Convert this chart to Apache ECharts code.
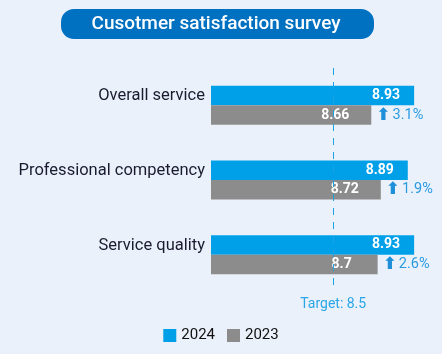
<!DOCTYPE html>
<html>
<head>
<meta charset="utf-8">
<script src="https://cdn.jsdelivr.net/npm/echarts@6/dist/echarts.min.js"></script>
<style>
  html, body { margin: 0; padding: 0; background: #eaf1fb; }
  #chart { width: 442px; height: 354px; }
</style>
</head>
<body>
<div id="chart"></div>
<script>
// data
const categories = ['Overall service', 'Professional competency', 'Service quality']
const values2024 = [8.93, 8.89, 8.93]
const values2023 = [8.66, 8.72, 8.7]
const growth = ['3.1%', '1.9%', '2.6%']
const targetLine = 8.42 // where the dashed line sits in the picture
const targetText = 'Target: 8.5'

const chart = echarts.init(document.getElementById('chart'))

const option = {
    backgroundColor: '#eaf1fb',
    textStyle: { fontFamily: 'Roboto' },
    graphic: [
        {
            type: 'rect',
            shape: { x: 61, y: 9, width: 313, height: 30, r: 13 },
            style: { fill: '#0070c0' },
        },
        {
            type: 'text',
            x: 216,
            y: 24,
            style: {
                text: 'Cusotmer satisfaction survey',
                fill: '#ffffff',
                font: '500 19px Roboto',
                align: 'center',
                verticalAlign: 'middle',
            },
        },
    ],
    legend: {
        bottom: 6,
        left: 'center',
        itemWidth: 13,
        itemHeight: 13,
        itemGap: 12,
        icon: 'rect',
        textStyle: { color: '#111', fontSize: 15 },
        data: ['2024', '2023'],
    },
    grid: {
        left: 211,
        width: 219,
        top: 68,
        bottom: 62,
    },
    xAxis: {
        type: 'value',
        min: 7.65,
        max: 9.03,
        show: false,
    },
    yAxis: {
        type: 'category',
        inverse: true,
        data: categories,
        axisLine: { show: false },
        axisTick: { show: false },
        axisLabel: {
            color: '#1b1b2f',
            fontSize: 16.5,
            margin: 6,
            verticalAlign: 'bottom',
            lineHeight: 18,
        },
    },
    series: [
        {
            name: '2024',
            type: 'bar',
            data: values2024,
            barWidth: 19.5,
            barGap: '0%',
            itemStyle: { color: '#00a0e9' },
            label: {
                show: true,
                position: 'insideRight',
                distance: 14,
                color: '#fff',
                fontWeight: 'bold',
                fontSize: 14,
            },
            markLine: {
                silent: true,
                symbol: 'none',
                lineStyle: { color: '#1ba3e4', type: [7, 7], width: 1 },
                label: {
                    show: true,
                    position: 'end',
                    formatter: targetText,
                    color: '#2aa6e6',
                    fontSize: 14,
                },
                data: [{ xAxis: targetLine }],
            },
        },
        {
            name: '2023',
            type: 'bar',
            data: values2023,
            barWidth: 19.5,
            barGap: '0%',
            itemStyle: { color: '#8c8c8c' },
            label: {
                show: true,
                position: 'right',
                distance: 0,
                offset: [-58, 0],
                formatter: (p) => '{v|' + p.value + '}{up|⬆}{p|' + growth[p.dataIndex] + '}',
                rich: {
                    v: { width: 44, align: 'right', color: '#fff', fontWeight: 'bold', fontSize: 14 },
                    up: { color: '#1e8fd8', fontSize: 17, fontWeight: 'bold', fontFamily: 'DejaVu Sans', padding: [0, 0, 0, 19] },
                    p: { color: '#2a9be0', fontSize: 14.5, padding: [0, 0, 0, 2] },
                },
            },
        },
    ],
}

chart.setOption(option)
</script>
</body>
</html>
